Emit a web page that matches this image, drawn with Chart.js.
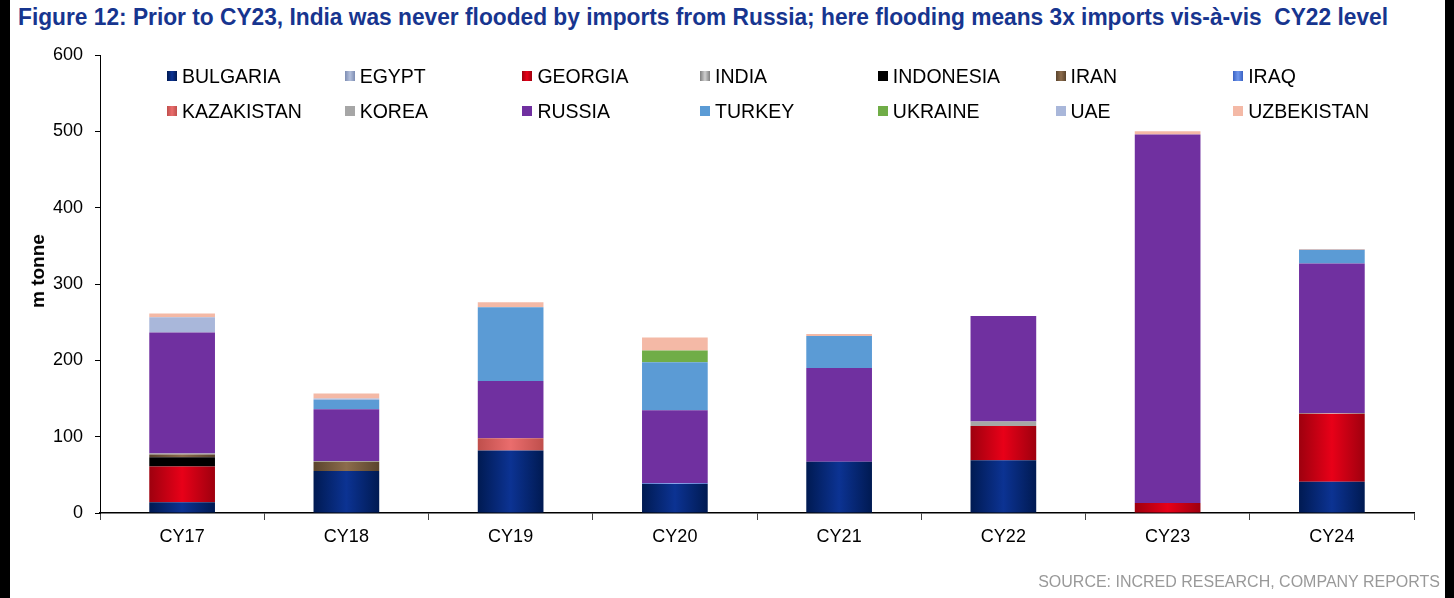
<!DOCTYPE html>
<html>
<head>
<meta charset="utf-8">
<title>Imports by origin</title>
<script src="https://cdn.jsdelivr.net/npm/chart.js@4.4.1/dist/chart.umd.min.js"></script>
<style>
  html, body { margin: 0; padding: 0; background: #fff; }
  #wrap { position: relative; width: 1454px; height: 598px; overflow: hidden;
          font-family: "Liberation Sans", Arial, sans-serif; background: #fff; }
  #wrap::before, #wrap::after { content: ""; position: absolute; top: 0; bottom: 0; background: #000; }
  #wrap::before { left: 0; width: 10px; }
  #wrap::after { right: 0; width: 9px; }
  #title { position: absolute; left: 18px; top: 4px; white-space: nowrap; transform-origin: 0 0;
           font-family: "Liberation Sans Narrow", "Liberation Sans", Arial, sans-serif;
           font-weight: bold; font-size: 23px; color: #17358f; }
  #chart { position: absolute; left: 0; top: 0; }
  #ytitle { position: absolute; left: 38px; top: 271px; transform: translate(-50%, -50%) rotate(-90deg);
            font-weight: bold; font-size: 19px; white-space: nowrap; color: #000; }
  #legend { position: absolute; left: 0; top: 0; }
  .item { position: absolute; display: flex; align-items: center; height: 24px; font-size: 19.5px; color: #000; white-space: nowrap; }
  .item i { display: inline-block; width: 10px; height: 10px; margin-right: 5px; }
  #source { position: absolute; right: 14px; top: 573px; font-size: 16px; color: #999; white-space: nowrap; }
</style>
</head>
<body>
<div id="wrap">
  <div id="title">Figure 12: Prior to CY23, India was never flooded by imports from Russia; here flooding means 3x imports vis-à-vis&nbsp; CY22 level</div>
  <canvas id="chart" width="1454" height="598"></canvas>
  <div id="ytitle">m tonne</div>
  <div id="legend"></div>
  <div id="source">SOURCE: INCRED RESEARCH, COMPANY REPORTS</div>
</div>
<script>
const categories = ['CY17', 'CY18', 'CY19', 'CY20', 'CY21', 'CY22', 'CY23', 'CY24'];
const yTicks = [0, 100, 200, 300, 400, 500, 600];

// m tonne by origin, stacked bottom to top in this order
const bulgaria   = [14, 55, 82, 38, 67, 69, 0, 41];
const egypt      = [0, 0, 0, 0, 0, 0, 0, 0];
const georgia    = [47, 0, 0, 0, 0, 45, 13, 89];
const india      = [0, 0, 0, 0, 0, 0, 0, 1];
const indonesia  = [12, 0, 0, 0, 0, 0, 0, 0];
const iran       = [3.5, 12, 0, 0, 0, 0, 0, 0];
const iraq       = [0, 0, 0, 1, 0, 0, 0, 0];
const kazakistan = [0, 0, 16, 0, 0, 0, 0, 0];
const korea      = [1.5, 1, 0, 0, 0, 6, 0, 0];
const russia     = [158.5, 68, 75, 95.5, 123, 138, 483, 196];
const turkey     = [0, 12.5, 96.5, 63, 42, 0, 0, 18];
const ukraine    = [0, 0, 0, 15.5, 0, 0, 0, 0];
const uae        = [20, 1.5, 0, 0, 0, 0, 0, 0];
const uzbekistan = [5, 6.5, 6.5, 17, 2.5, 0, 4, 1];

const BAR_PCT = 0.4;

// horizontal "cylinder" shading: dark edges, bright middle
function shade(edge, mid) {
  return ctx => {
    const chart = ctx.chart;
    const x = chart.scales && chart.scales.x;
    if (ctx.type !== 'data' || !x || !chart.chartArea) return mid;
    const cx = x.getPixelForValue(ctx.dataIndex);
    const half = x.width / categories.length * BAR_PCT / 2;
    const g = chart.ctx.createLinearGradient(cx - half, 0, cx + half, 0);
    g.addColorStop(0, edge);
    g.addColorStop(0.5, mid);
    g.addColorStop(1, edge);
    return g;
  };
}

const series = [
  { label: 'BULGARIA',   data: bulgaria,   edge: '#001a52', mid: '#0c3393' },
  { label: 'EGYPT',      data: egypt,      edge: '#7d8db3', mid: '#b3bfdb' },
  { label: 'GEORGIA',    data: georgia,    edge: '#9e000e', mid: '#e80018' },
  { label: 'INDIA',      data: india,      edge: '#7f7f7f', mid: '#cfcfcf' },
  { label: 'INDONESIA',  data: indonesia,  edge: '#000000', mid: '#000000' },
  { label: 'IRAN',       data: iran,       edge: '#5a442d', mid: '#8c6c4c' },
  { label: 'IRAQ',       data: iraq,       edge: '#3a62c4', mid: '#7097ec' },
  { label: 'KAZAKISTAN', data: kazakistan, edge: '#bf4f4c', mid: '#ea6d6d' },
  { label: 'KOREA',      data: korea,      edge: '#a6a6a6', mid: '#a6a6a6' },
  { label: 'RUSSIA',     data: russia,     edge: '#7030a0', mid: '#7030a0' },
  { label: 'TURKEY',     data: turkey,     edge: '#5b9bd5', mid: '#5b9bd5' },
  { label: 'UKRAINE',    data: ukraine,    edge: '#70ad47', mid: '#70ad47' },
  { label: 'UAE',        data: uae,        edge: '#a9b7da', mid: '#a9b7da' },
  { label: 'UZBEKISTAN', data: uzbekistan, edge: '#f4b9a6', mid: '#f4b9a6' }
];

// legend: 7 columns x 2 rows
const legend = document.getElementById('legend');
series.forEach((s, i) => {
  const el = document.createElement('div');
  el.className = 'item';
  el.style.left = (167 + (i % 7) * 177.7) + 'px';
  el.style.top = (i < 7 ? 64 : 99) + 'px';
  const box = document.createElement('i');
  box.style.background = s.edge === s.mid ? s.mid
    : 'linear-gradient(to right, ' + s.edge + ', ' + s.mid + ', ' + s.edge + ')';
  el.appendChild(box);
  el.appendChild(document.createTextNode(s.label));
  legend.appendChild(el);
});

// stretch title to its full line length
const title = document.getElementById('title');
title.style.transform = 'scaleX(' + (1370 / title.getBoundingClientRect().width) + ')';

const axisFont = { family: '"Liberation Sans", Arial, sans-serif', size: 18 };

new Chart(document.getElementById('chart'), {
  type: 'bar',
  data: {
    labels: categories,
    datasets: series.map(s => ({
      label: s.label,
      data: s.data,
      backgroundColor: shade(s.edge, s.mid),
      borderWidth: 0,
      barPercentage: BAR_PCT,
      categoryPercentage: 1
    }))
  },
  options: {
    responsive: false,
    devicePixelRatio: 1,
    animation: false,
    events: [],
    layout: { padding: { left: 10, right: 40, top: 55, bottom: 45 } },
    plugins: { legend: { display: false }, tooltip: { enabled: false }, title: { display: false } },
    scales: {
      x: {
        stacked: true,
        afterFit: s => { s.height = 40; },
        grid: { offset: true, drawOnChartArea: false, drawTicks: true, tickLength: 7, color: '#444' },
        border: { display: true, color: '#000', width: 1.5 },
        ticks: { font: axisFont, color: '#000', padding: 6 }
      },
      y: {
        stacked: true,
        min: 0,
        max: 600,
        afterFit: s => { s.width = 90; },
        afterBuildTicks: s => { s.ticks = yTicks.map(v => ({ value: v })); },
        grid: { drawOnChartArea: false, drawTicks: true, tickLength: 5, color: '#000' },
        border: { display: true, color: '#000', width: 1 },
        ticks: { font: axisFont, color: '#000', padding: 12 }
      }
    }
  }
});
</script>
</body>
</html>
